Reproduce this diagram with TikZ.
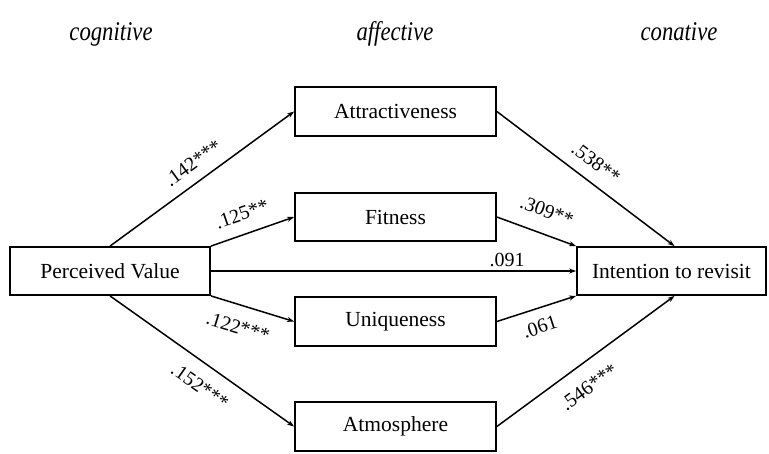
\documentclass[tikz,border=0pt]{standalone}
\usepackage{fontspec}
\setmainfont{Liberation Serif}
\usetikzlibrary{arrows.meta}
\begin{document}
\begin{tikzpicture}[x=1pt,y=-1pt,
  box/.style={draw, line width=1.8pt, inner sep=0pt, font=\fontsize{21.5}{24}\selectfont},
  arr/.style={line width=1.5pt, -{Stealth[length=7pt,width=5pt]}},
  coef/.style={font=\fontsize{20}{22}\selectfont, inner sep=0pt},
  head/.style={font=\fontsize{27}{30}\selectfont\itshape, inner sep=0pt, anchor=base}]
\useasboundingbox (0,0) rectangle (769,453);
% headers
\node[head] (hc) at (111,40) {\scalebox{0.84}[1]{cognitive}};
\node[head] (ha) at (395,40) {\scalebox{0.84}[1]{affective}};
\node[head] (hn) at (679,40) {\scalebox{0.84}[1]{conative}};
% boxes
\node[box, minimum width=200pt, minimum height=48pt] (pv) at (110,271) {Perceived Value};
\node[box, minimum width=201pt, minimum height=49pt] (attr) at (395.5,111.5) {Attractiveness};
\node[box, minimum width=201pt, minimum height=48pt] (fit) at (395.5,217) {Fitness};
\node[box, minimum width=201pt, minimum height=49pt] (uni) at (395.5,321.5) {Uniqueness};
\node[box, minimum width=201pt, minimum height=49pt] (atm) at (395.5,426.5) {Atmosphere};
\node[box, minimum width=189pt, minimum height=48pt] (int) at (671.5,271) {Intention to revisit};
% arrows
\draw[arr] (pv.north) -- (attr.west);
\draw[arr] (pv.north east) -- (fit.west);
\draw[arr] (pv.east) -- (int.west);
\draw[arr] (pv.south east) -- (uni.west);
\draw[arr] (pv.south) -- (atm.west);
\draw[arr] (attr.east) -- ([xshift=3pt]int.north);
\draw[arr] (fit.east) -- (int.north west);
\draw[arr] (uni.east) -- (int.south west);
\draw[arr] (atm.east) -- ([xshift=3pt]int.south);
% coefficients
\node[coef, rotate=36] (c1) at (193,163) {.142***};
\node[coef, rotate=19] (c2) at (242,214) {.125**};
\node[coef] (c3) at (507,260) {.091};
\node[coef, rotate=-17] (c4) at (238,327) {.122***};
\node[coef, rotate=-35] (c5) at (200,386) {.152***};
\node[coef, rotate=-37] (c6) at (596,163) {.538**};
\node[coef, rotate=-20] (c7) at (547,211) {.309**};
\node[coef, rotate=18] (c8) at (540,327) {.061};
\node[coef, rotate=36] (c9) at (589,387) {.546***};
\end{tikzpicture}
\end{document}
